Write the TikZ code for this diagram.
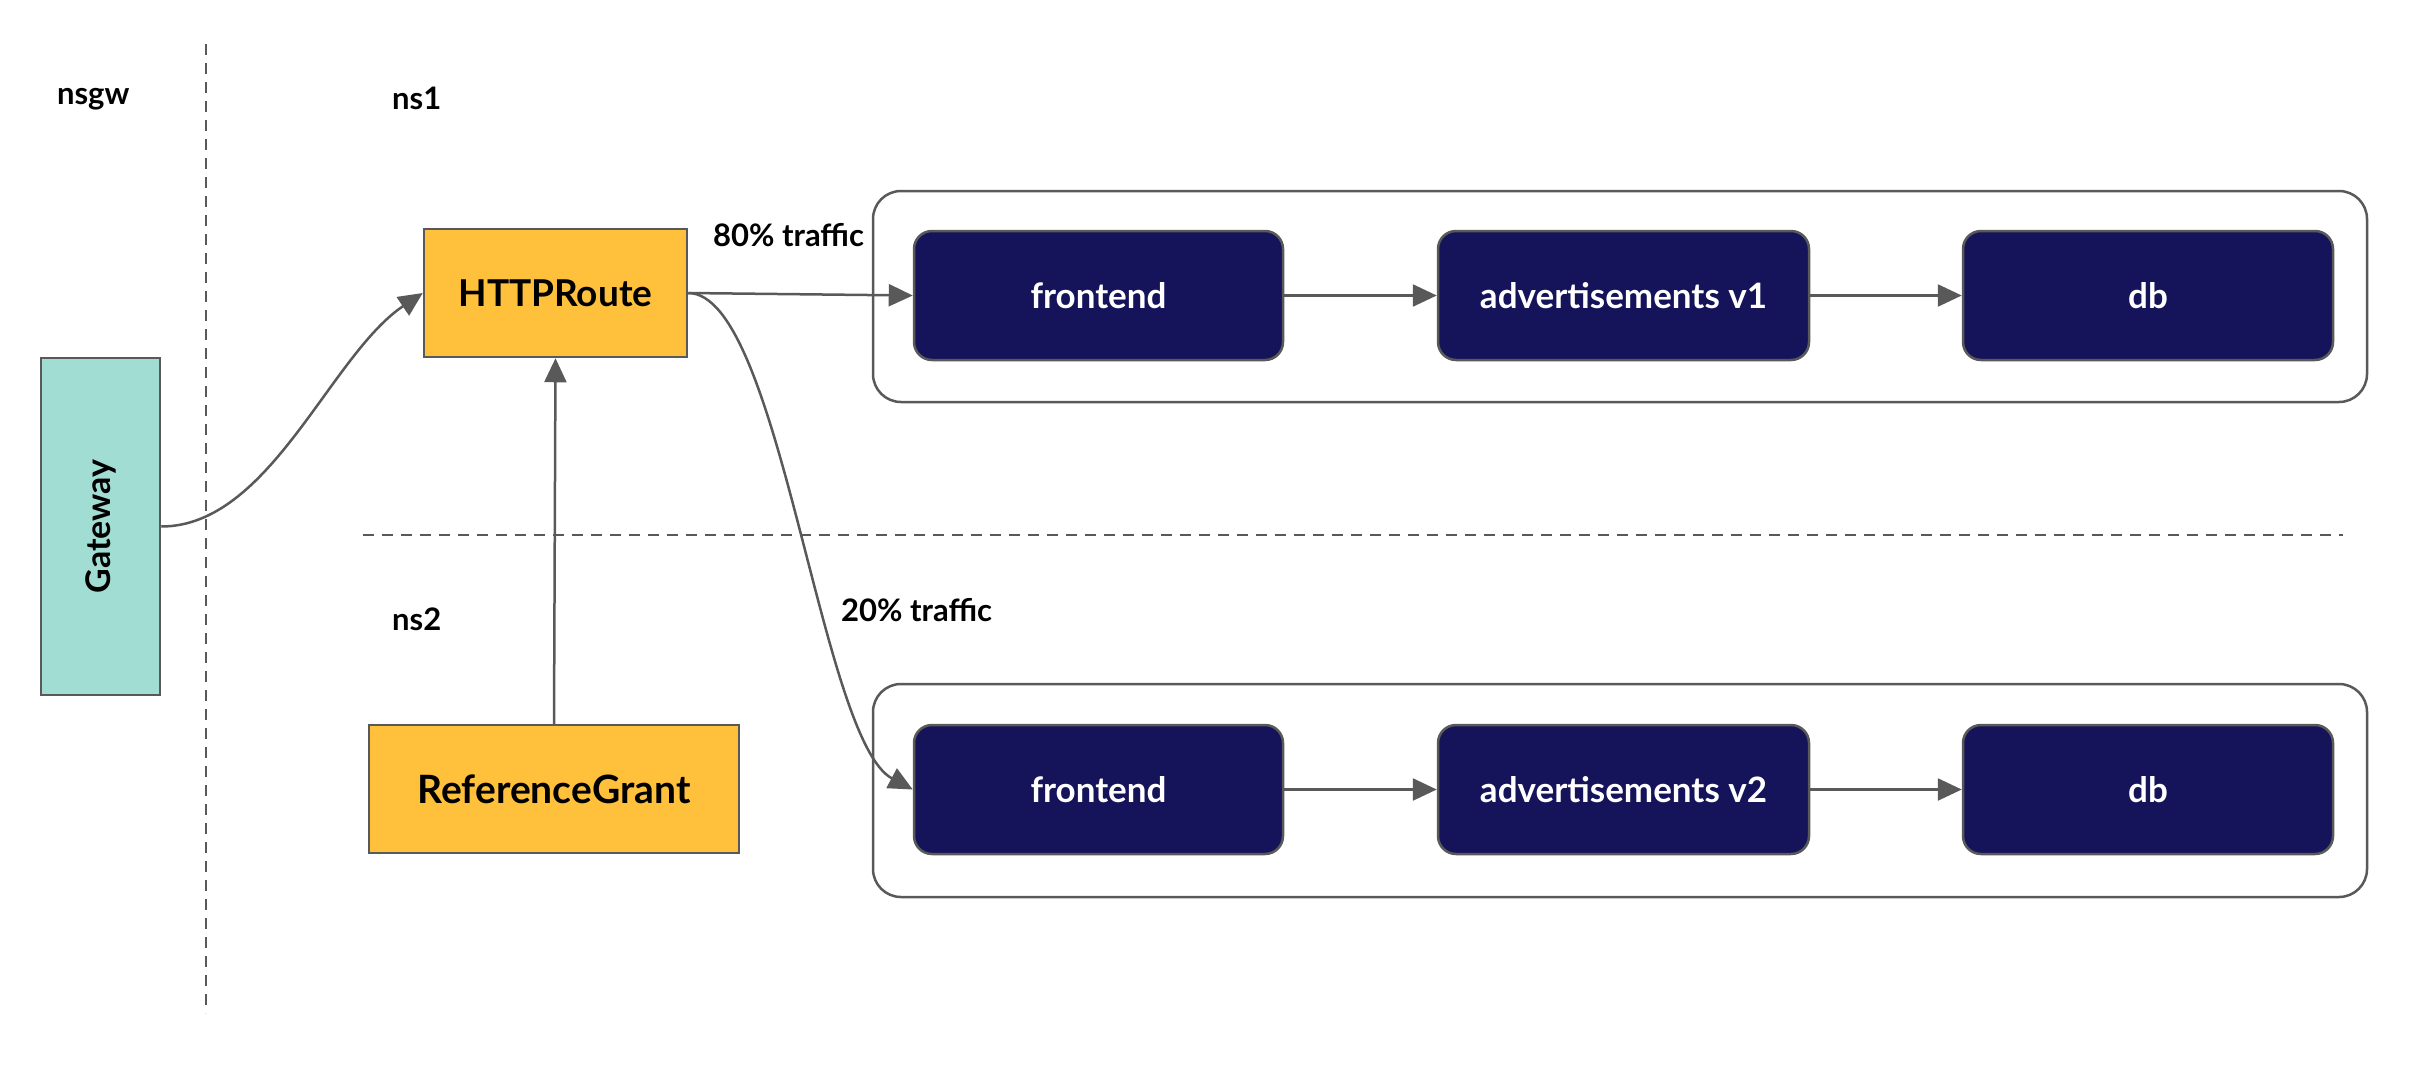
\documentclass[tikz,border=0pt]{standalone}
\usepackage{fontspec}
\setmainfont{Lato}
\usetikzlibrary{arrows.meta}
\definecolor{gwteal}{HTML}{A2DDD3}
\definecolor{routeyel}{HTML}{FFC03B}
\definecolor{svcnavy}{HTML}{151359}
\definecolor{edgegray}{HTML}{595959}
\begin{document}
\begin{tikzpicture}[x=1pt,y=-1pt,
  plainbox/.style={draw=edgegray, line width=2.5pt, inner sep=0pt, font=\fontsize{37}{41}\selectfont\bfseries},
  yelbox/.style={plainbox, fill=routeyel},
  svc/.style={draw=edgegray, line width=2.5pt, fill=svcnavy, rounded corners=18pt, minimum width=369pt, minimum height=129pt, inner sep=0pt, text=white, font=\fontsize{35}{39}\selectfont\bfseries},
  group/.style={draw=edgegray, line width=2.5pt, rounded corners=28pt, inner sep=0pt, minimum width=1494pt, minimum height=211pt},
  lbl/.style={font=\fontsize{31}{35}\selectfont\bfseries, anchor=west, inner sep=0pt},
  conn/.style={draw=edgegray, line width=2.5pt, -{Triangle[length=24pt,width=22pt]}},
  sep/.style={draw=edgegray, line width=2.5pt, dash pattern=on 11pt off 8pt}
]
\useasboundingbox (0,0) rectangle (2410,1088);

% separators
\coordinate (vtop) at (206,44);
\coordinate (vbot) at (206,1013);
\coordinate (hl) at (363,535);
\coordinate (hr) at (2343,535);
\draw[sep] (vtop) -- (vbot);
\draw[sep] (hl) -- (hr);

% labels
\node[lbl] (nsgw) at (57,99) {nsgw};
\node[lbl] (ns1) at (392,98) {ns1};
\node[lbl] (ns2) at (392,619) {ns2};
\node[lbl] (l80) at (713,235) {80\% traffic};
\node[lbl] (l20) at (841,610) {20\% traffic};

% gateway
\node[plainbox, fill=gwteal, minimum width=119pt, minimum height=337pt] (gw) at (100.5,526.5) {};
\node[rotate=90, font=\fontsize{34}{38}\selectfont\bfseries, inner sep=0pt] (gwtext) at (gw.center) {Gateway};

% route and grant
\node[yelbox, minimum width=263pt, minimum height=128pt] (route) at (555.5,293) {HTTPRoute};
\node[yelbox, minimum width=370pt, minimum height=128pt, font=\fontsize{39}{43}\selectfont\bfseries] (grant) at (554,789) {ReferenceGrant};

% groups
\node[group] (g1) at (1620,296.5) {};
\node[group, minimum height=213pt] (g2) at (1620,790.5) {};

% services
\node[svc] (fe1) at (1098.5,295.5) {frontend};
\node[svc, minimum width=371pt] (ad1) at (1623.5,295.5) {advertisements v1};
\node[svc, minimum width=370pt] (db1) at (2148,295.5) {db};
\node[svc] (fe2) at (1098.5,789.5) {frontend};
\node[svc, minimum width=371pt] (ad2) at (1623.5,789.5) {advertisements v2};
\node[svc, minimum width=370pt] (db2) at (2148,789.5) {db};

% connectors
\draw[conn] (gw.east) .. controls (270,526.5) and (330,355) .. (route.west);
\draw[conn] (route.east) -- (fe1.west);
\draw[conn] (route.east) .. controls (780,293) and (820,740) .. (fe2.west);
\draw[conn] (grant.north) -- (route.south);
\draw[conn] (fe1) -- (ad1);
\draw[conn] (ad1) -- (db1);
\draw[conn] (fe2) -- (ad2);
\draw[conn] (ad2) -- (db2);
\end{tikzpicture}
\end{document}
